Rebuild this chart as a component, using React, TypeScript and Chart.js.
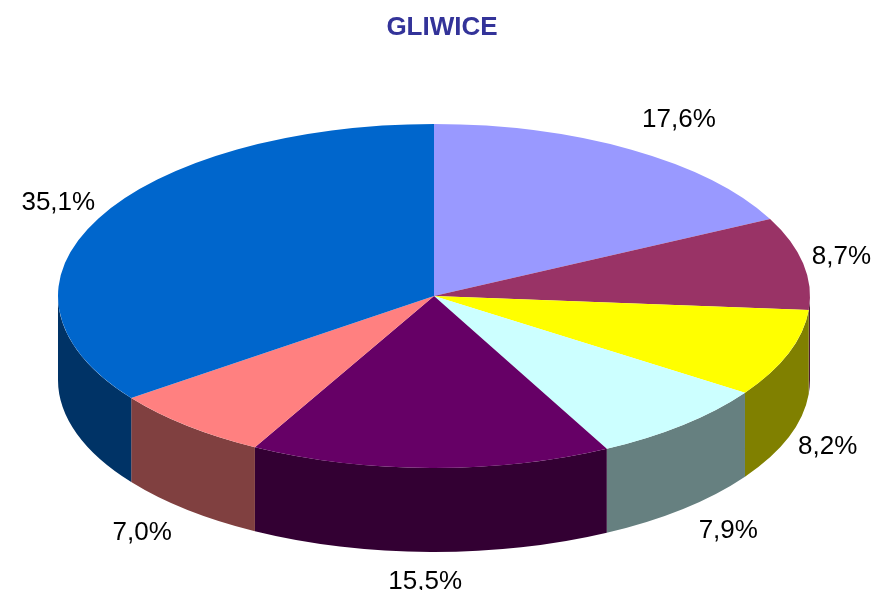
import React, { useEffect, useRef } from "react";
import { Chart, registerables } from "chart.js";

Chart.register(...registerables);

const categories = ["A", "B", "C", "D", "E", "F", "G"];
const shares = [17.6, 8.7, 8.2, 7.9, 15.5, 7.0, 35.1];
const topColors = ["#9999FF", "#993366", "#FFFF00", "#CCFFFF", "#660066", "#FF8080", "#0066CC"];
const sideColors = ["#4D4D80", "#4D1A33", "#808000", "#668080", "#330033", "#804040", "#003366"];
const titleText = "GLIWICE";

// ellipse geometry of the 3D pie
const CX = 434;
const CY = 296;
const RX = 376;
const RY = 172;
const DEPTH = 84;
const LBL_A = 356;
const LBL_B = 58;
const LBL_RY_BACK = RY + 35;
const LBL_RY_FRONT = RY + 30;

const fmt = (v: number) => v.toFixed(1).replace(".", ",") + "%";

const pie3d = {
  id: "pie3d",
  beforeDatasetsDraw(chart: any) {
    const meta = chart.getDatasetMeta(0);
    const ctx = chart.ctx as CanvasRenderingContext2D;
    const first = meta.data[0];
    if (!first) return;
    // side walls
    meta.data.forEach((arc: any, i: number) => {
      const s = arc.startAngle;
      const e = arc.endAngle;
      for (const k of [-2 * Math.PI, 0, 2 * Math.PI]) {
        const a = Math.max(s, k);
        const b = Math.min(e, k + Math.PI);
        if (b > a) {
          ctx.save();
          ctx.beginPath();
          ctx.ellipse(CX, CY, RX, RY, 0, a - k, b - k);
          ctx.ellipse(CX, CY + DEPTH, RX, RY, 0, b - k, a - k, true);
          ctx.closePath();
          ctx.fillStyle = sideColors[i];
          ctx.fill();
          ctx.restore();
        }
      }
    });
    const R = first.outerRadius;
    ctx.save();
    ctx.translate(CX, CY);
    ctx.scale(RX / R, RY / R);
    ctx.translate(-first.x, -first.y);
  },
  afterDatasetsDraw(chart: any) {
    const ctx = chart.ctx as CanvasRenderingContext2D;
    ctx.restore();
    const meta = chart.getDatasetMeta(0);
    ctx.save();
    ctx.font = "26px 'Liberation Sans', Arial, sans-serif";
    ctx.fillStyle = "#000000";
    ctx.textAlign = "center";
    ctx.textBaseline = "middle";
    meta.data.forEach((arc: any, i: number) => {
      const m = (arc.startAngle + arc.endAngle) / 2;
      const c = Math.cos(m);
      const s = Math.sin(m);
      const x = CX + LBL_A * c + LBL_B * Math.max(-1, Math.min(1, c * 10));
      const y = s > 0 ? CY + LBL_RY_FRONT * s + DEPTH : CY + LBL_RY_BACK * s;
      ctx.fillText(fmt(chart.data.datasets[0].data[i]), x, y);
    });
    ctx.restore();
  },
};

export default function App() {
  const ref = useRef<HTMLCanvasElement | null>(null);
  useEffect(() => {
    document.body.style.margin = "0";
    const canvas = ref.current;
    if (!canvas) return;
    const chart = new Chart(canvas, {
      type: "pie",
      data: {
        labels: categories,
        datasets: [
          {
            data: shares,
            backgroundColor: topColors,
            borderWidth: 0,
            clip: false as any,
          },
        ],
      },
      options: {
        responsive: false,
        animation: false,
        devicePixelRatio: 1,
        events: [],
        layout: { padding: 0 },
        plugins: {
          legend: { display: false },
          tooltip: { enabled: false },
          title: {
            display: true,
            text: titleText,
            color: "#333399",
            font: { family: "'Liberation Sans', Arial, sans-serif", size: 26, weight: "bold" },
            padding: { top: 12, bottom: 10 },
          },
        },
      },
      plugins: [pie3d],
    });
    return () => chart.destroy();
  }, []);
  return (
    <div style={{ width: 884, height: 590, background: "#ffffff" }}>
      <canvas ref={ref} width={884} height={590} style={{ display: "block" }} />
    </div>
  );
}
